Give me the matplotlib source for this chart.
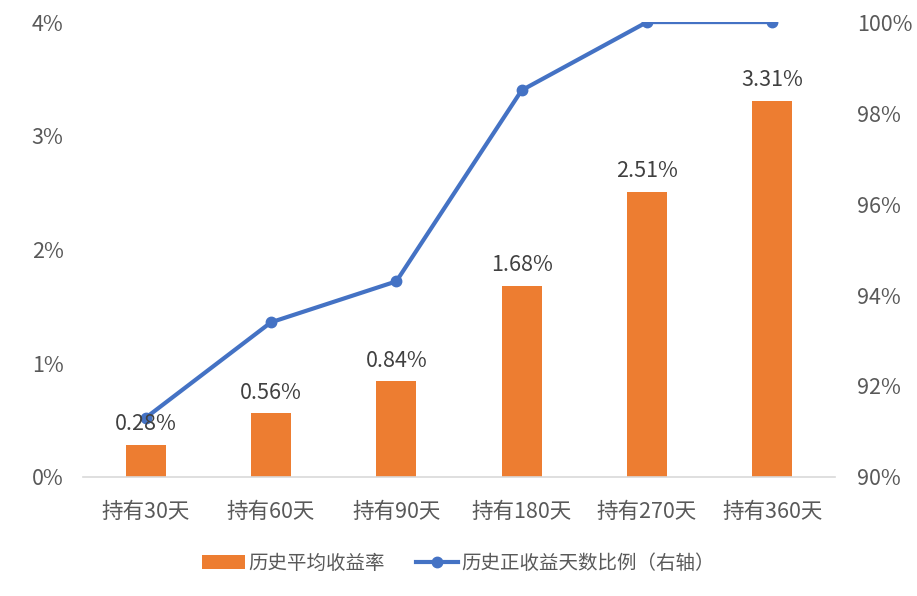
import matplotlib.pyplot as plt
from matplotlib.ticker import FuncFormatter

plt.rcParams['font.family'] = ['Noto Sans CJK SC', 'DejaVu Sans']

categories = ['持有30天', '持有60天', '持有90天', '持有180天', '持有270天', '持有360天']
avg_return = [0.28, 0.56, 0.84, 1.68, 2.51, 3.31]          # %
positive_ratio = [91.3, 93.4, 94.3, 98.5, 100.0, 100.0]     # %

bar_color = '#ED7D31'
line_color = '#4472C4'
text_color = '#595959'

fig = plt.figure(figsize=(9.17, 5.96), dpi=100)
ax = fig.add_axes([0.0905, 0.1997, 0.8201, 0.7633])
ax2 = ax.twinx()

x = list(range(len(categories)))
bars = ax.bar(x, avg_return, width=0.32, color=bar_color, label='历史平均收益率', zorder=2)
for xi, v in zip(x, avg_return):
    ax.annotate(f'{v:.2f}%', (xi, v), xytext=(0, 7), textcoords='offset points',
                ha='center', va='bottom', fontsize=15.5, color='#404040')

line, = ax2.plot(x, positive_ratio, color=line_color, lw=3, marker='o', ms=7.5,
                 label='历史正收益天数比例（右轴）', zorder=3)

ax.set_xlim(-0.5, len(categories) - 0.5)
ax.set_ylim(0, 4)
ax.set_yticks([0, 1, 2, 3, 4])
ax.yaxis.set_major_formatter(FuncFormatter(lambda v, p: f'{v:.0f}%'))
ax2.set_ylim(90, 100)
ax2.set_yticks([90, 92, 94, 96, 98, 100])
ax2.yaxis.set_major_formatter(FuncFormatter(lambda v, p: f'{v:.0f}%'))

ax.set_xticks(x)
ax.set_xticklabels(categories)

for a in (ax, ax2):
    for s in ['top', 'left', 'right', 'bottom']:
        a.spines[s].set_visible(False)
    a.tick_params(length=0, labelsize=15.5, colors=text_color)
ax.spines['bottom'].set_visible(True)
ax.spines['bottom'].set_color('#D9D9D9')
ax.spines['bottom'].set_linewidth(1.2)
ax.tick_params(axis='x', pad=17)
ax.tick_params(axis='y', pad=14)
ax2.tick_params(axis='y', pad=16)

ax.set_zorder(ax2.get_zorder() + 1)
ax.patch.set_visible(False)

fig.legend([bars, line], ['历史平均收益率', '历史正收益天数比例（右轴）'],
           loc='center', bbox_to_anchor=(0.5, 0.055), ncol=2, frameon=False,
           fontsize=14, labelcolor=text_color, handlelength=2.2,
           handletextpad=0.15, columnspacing=1.6)

fig.savefig('out.png', dpi=100)
